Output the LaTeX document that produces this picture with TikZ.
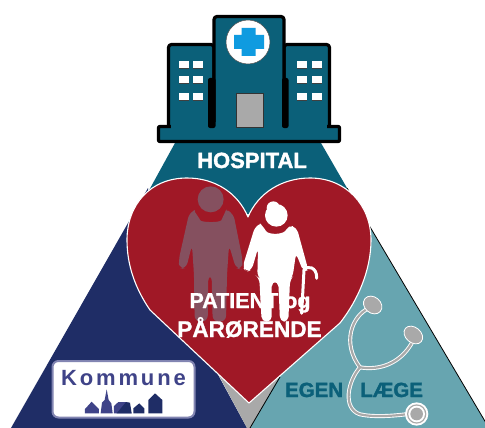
\documentclass[tikz,border=0pt]{standalone}
\usepackage{fontspec}
\setmainfont{Liberation Sans}
\definecolor{hteal}{HTML}{0B6079}
\definecolor{hblue}{HTML}{1F2D66}
\definecolor{lteal}{HTML}{67A5B0}
\definecolor{hred}{HTML}{A01826}
\definecolor{hgray}{HTML}{A9A9A9}
\definecolor{pgrey}{HTML}{85505F}
\definecolor{crossblue}{HTML}{0F9BE0}
\definecolor{signblue}{HTML}{3F4388}
\tikzset{
  x=1pt,y=-1pt,
  wing/.style={fill=hteal,draw=black,line width=3.2pt,line join=round,rounded corners=3pt},
  lbl/.style={inner sep=0pt,anchor=base},
  scope3/.style={scale=1/3},
  tube/.style={line cap=round,line join=round}
}
\begin{document}
\begin{tikzpicture}
\useasboundingbox (0,0) rectangle (485,428);
\fill[white] (0,0) rectangle (485,428);
% pyramid
\fill[hteal] (175,143) -- (321,143) -- (362,214) -- (136,214) -- cycle;
\fill[hblue] (148,188) -- (11,428) -- (247,428) -- (150,250) -- cycle;
\fill[lteal] (347,188) -- (489,428) -- (250,428) -- (345,250) -- cycle;
\draw[black,line width=0.8pt] (347,188) -- (489,428);
\fill[hgray] (200,340) -- (247,428) -- (250,428) -- (300,340) -- cycle;
\draw[black,line width=0.8pt] (250,428) -- (280,377);
% heart
\path[fill=hred,draw=white,line width=1.1pt,line join=round]
  (248,217) .. controls (238,193) and (215,178) .. (187,178)
  .. controls (150,178) and (127,205) .. (127,240)
  .. controls (127,265) and (135,288) .. (150,310)
  -- (249,403) -- (340,323)
  .. controls (358,300) and (371,270) .. (371,240)
  .. controls (371,205) and (346,178) .. (310,178)
  .. controls (282,178) and (258,193) .. (248,217) -- cycle;
% people
\begin{scope}[shift={(160,170)},scope3]
  \fill[pgrey] (152,88) circle (39);
  \fill[pgrey,rounded corners=6pt] (88,127) .. controls (105,120) and (108,130) .. (112,135)
    .. controls (125,158) and (180,158) .. (192,135)
    .. controls (196,125) and (205,122) .. (220,130)
    -- (248,270) -- (246,298) -- (228,296) -- (207,225) -- (201,315) -- (198,455)
    -- (158,455) -- (155,315) -- (145,315) -- (143,455) -- (104,455) -- (102,315)
    -- (96,225) -- (78,296) -- (58,296) -- (56,270) -- cycle;
  \fill[white] (349,136) circle (34) (340,114) circle (20);
  \fill[white,rounded corners=5pt] (285,170) .. controls (298,163) and (305,165) .. (310,170)
    .. controls (325,195) and (372,195) .. (385,165)
    -- (410,172) -- (445,300) -- (430,305) -- (408,250) -- (398,320) -- (390,330)
    -- (385,455) -- (360,455) -- (355,335) -- (335,335) -- (335,455) -- (305,455)
    -- (298,325) -- (292,320) -- (294,235) -- (275,300) -- (258,306) -- (248,290) -- cycle;
  \draw[white,line width=3pt,line cap=round] (425,430) -- (432,300)
    .. controls (440,285) and (472,290) .. (470,325);
\end{scope}
% hospital
\draw[wing] (168.5,129) -- (168.5,44.5) -- (214,44.5) -- (214,129) -- cycle;
\draw[wing] (284,129) -- (284,44.5) -- (329.5,44.5) -- (329.5,129) -- cycle;
\draw[wing] (214,129) -- (214,16.5) -- (284,16.5) -- (284,129) -- cycle;
\draw[wing,rounded corners=1pt] (158.5,126.5) -- (339.5,126.5) -- (339.5,141.5) -- (158.5,141.5) -- cycle;
\fill[hteal] (171,122) rectangle (327,131);
\fill[black,rounded corners=2pt] (208,78) rectangle (215.5,128);
\fill[black,rounded corners=2pt] (282,78) rectangle (288.5,128);
\fill[hteal] (216,124) rectangle (282,131);
\foreach \wy in {61,76,93}{
  \foreach \wx in {179,193,297,312}{
    \fill[white] (\wx,\wy) rectangle ++(9.5,8.5);
    \fill[black!75] (\wx,\wy+6.8) rectangle ++(9.5,1.7);
  }
}
\filldraw[fill=white,draw=black!70,line width=0.5pt] (248,42) circle (22);
\fill[crossblue] (241.5,28) rectangle (255.5,56) (234,35) rectangle (264,49);
\filldraw[fill=hgray,draw=black!80,line width=0.8pt] (236,93) rectangle (263,127);
\node[lbl,white,font=\bfseries\fontsize{22}{24}\selectfont\addfontfeature{FakeBold=1.5}] (hosp) at (252,168) {HOSPITAL};
% Kommune sign
\filldraw[fill=white,draw=signblue!65!white,line width=2pt,rounded corners=6pt] (52.5,361) rectangle (194.5,417.5);
\node[lbl,signblue,font=\bfseries\fontsize{22}{24}\selectfont\addfontfeature{LetterSpace=13}] (komm) at (123.5,385) {Kommune};
\begin{scope}[shift={(0,300)},scope3]
  \fill[signblue] (255,340) -- (255,327) -- (275,305) -- (297,327) -- (297,340) -- cycle;
  \fill[signblue] (302,340) -- (306,308) -- (314,300) -- (320,268) -- (326,300) -- (334,310) -- (338,340) -- cycle;
  \fill[signblue] (342,340) -- (342,318) -- (355,306) -- (378,306) -- (395,340) -- cycle;
  \fill[hblue] (350,340) -- (378,306) -- (390,308) -- (395,340) -- cycle;
  \fill[hblue] (400,340) -- (400,325) -- (418,310) -- (433,325) -- (433,340) -- cycle;
  \fill[hblue] (445,340) -- (445,300) -- (465,280) -- (487,300) -- (487,340) -- cycle;
\end{scope}
% stethoscope
\begin{scope}[shift={(240,280)},scope3]
  \foreach \tc/\tw in {white/4pt,hgray/2.2pt}{
    \draw[tube,\tc,line width=\tw] (385,85) .. controls (335,110) and (305,190) .. (360,262);
    \draw[tube,\tc,line width=\tw] (515,190) .. controls (480,250) and (420,272) .. (360,262)
      .. controls (325,300) and (305,385) .. (360,403) .. controls (400,412) and (460,408) .. (505,402);
  }
  \filldraw[fill=hgray,draw=white,line width=0.8pt,rotate around={-40:(398,75)}] (398,75) ellipse (30 and 24);
  \filldraw[fill=hgray,draw=white,line width=0.8pt,rotate around={-40:(520,165)}] (520,165) ellipse (31 and 23);
  \fill[white] (530,402) circle (35);
  \fill[hgray] (530,402) circle (29);
  \fill[white] (530,402) circle (25);
  \fill[hgray] (530,402) circle (19);
\end{scope}
\node[lbl,hteal,font=\bfseries\fontsize{20.5}{24}\selectfont\addfontfeature{FakeBold=1.5}] (laege) at (354,397) {EGEN\hspace{11.5pt} LÆGE};
% patient text
\node[lbl,white,font=\bfseries\fontsize{21.5}{24}\selectfont\addfontfeature{FakeBold=1.2}] (pat) at (250,308) {PATIENT og};
\node[lbl,white,font=\bfseries\fontsize{22.6}{24}\selectfont\addfontfeature{FakeBold=1.2}] (par) at (249.5,337) {PÅRØRENDE};
\end{tikzpicture}
\end{document}
